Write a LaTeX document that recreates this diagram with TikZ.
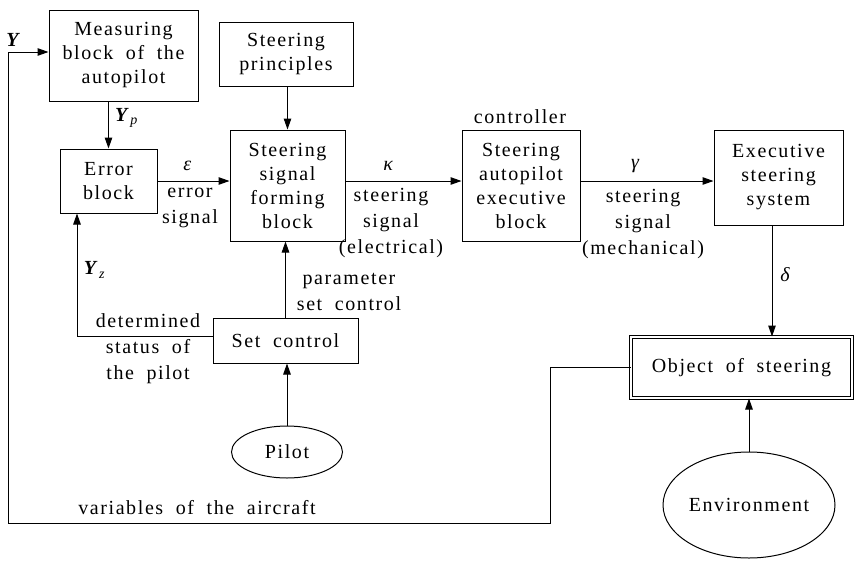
\documentclass[tikz,border=0pt]{standalone}
\usepackage{fontspec}
\setmainfont{Liberation Serif}[LetterSpace=8, WordSpace=1.9]
\usepackage{tikz}
\usetikzlibrary{shapes.geometric, arrows.meta, positioning}

\begin{document}
\begin{tikzpicture}[x=1pt, y=-1pt, line width=1pt,
  txt/.style={font=\fontsize{20}{24}\selectfont, inner sep=0pt, align=center},
  lbl/.style={txt, font=\fontsize{20}{26}\selectfont},
  blk/.style={txt, draw, rectangle},
  oval/.style={txt, draw, ellipse},
  arr/.style={-{Triangle[length=11pt, width=7.5pt]}}]
\useasboundingbox (0,0) rectangle (854,560);
  % Blocks of the autopilot
  \node[blk, minimum width=149, minimum height=91] (meas) at (123.5,55.5)
    {Measuring\\block of the\\autopilot};
  \node[blk, minimum width=134, minimum height=64] (princ) at (286,54)
    {Steering\\principles};
  \node[blk, minimum width=97, minimum height=64] (err) at (108.5,181)
    {Error\\block};
  \node[blk, minimum width=115, minimum height=111] (form) at (287.5,185.5)
    {Steering\\signal\\forming\\block};
  \node[blk, minimum width=118, minimum height=111] (exec) at (521,185.5)
    {Steering\\autopilot\\executive\\block};
  \node[blk, minimum width=129, minimum height=95] (ess) at (778.5,177.5)
    {Executive\\steering\\system};
  \node[blk, minimum width=221, minimum height=61, double, double distance=2.5pt] (obj) at (741.5,367.5)
    {Object of steering};
  \node[blk, minimum width=145, minimum height=45] (setc) at (285.5,340.5)
    {Set control};
  \node[oval, minimum width=111, minimum height=52] (pilot) at (287,452) {Pilot};
  \node[oval, minimum width=172, minimum height=106] (env) at (749,505) {Environment};
  % Corners of the feedback line
  \coordinate (fb1) at (550,523);
  \coordinate (fb2) at (8,523);
  % Signal flow
  \draw[arr] (err.north |- meas.south) -- (err.north);
  \draw[arr] (princ.south -| form.north) -- (form.north);
  \draw[arr] (err.east) -- (err.east -| form.west);
  \draw[arr] (form.east |- err.east) -- (exec.west |- err.east);
  \draw[arr] (exec.east |- err.east) -- (ess.west |- err.east);
  \draw[arr] ([xshift=-6.5pt]ess.south) -- ([xshift=-6.5pt]ess.south |- obj.north);
  \draw[arr] (env.north) -- (env.north |- obj.south);
  \draw[arr] (setc.north) -- (setc.north |- form.south);
  \draw[arr] (pilot.north) -- (pilot.north |- setc.south);
  \draw[arr] ([yshift=4.5pt]setc.west) -| ([xshift=-31.5pt]err.south);
  \draw[arr] (obj.west) -| (fb1) -- (fb2) |- ([yshift=3.5pt]meas.west);
  % Labels
  \node[lbl] (ylbl) at (14,40) {\textbf{\textit{Y}}};
  \node[lbl] (yplbl) at (127,118) {\textbf{\textit{Y}}\textsubscript{\textit{p}}};
  \node[lbl] (yzlbl) at (95,270) {\textbf{\textit{Y}}\textsubscript{\textit{z}}};
  \node[lbl] (eps) at (188,166) {\textit{ε}};
  \node[lbl] (kap) at (389,166) {\textit{κ}};
  \node[lbl] (gam) at (636,166) {\textit{γ}};
  \node[lbl] (del) at (786,275) {\textit{δ}};
  \node[lbl] (errsig) at (190,208) {error\\signal};
  \node[lbl] (elsig) at (391,223) {steering\\signal\\(electrical)};
  \node[lbl] (mechsig) at (643,224) {steering\\signal\\(mechanical)};
  \node[lbl] (ctrl) at (520,117) {controller};
  \node[lbl] (param) at (349,292) {parameter\\set control};
  \node[lbl] (status) at (148,349) {determined\\status of\\the pilot};
  \node[lbl] (vars) at (197,508) {variables of the aircraft};
\end{tikzpicture}
\end{document}
